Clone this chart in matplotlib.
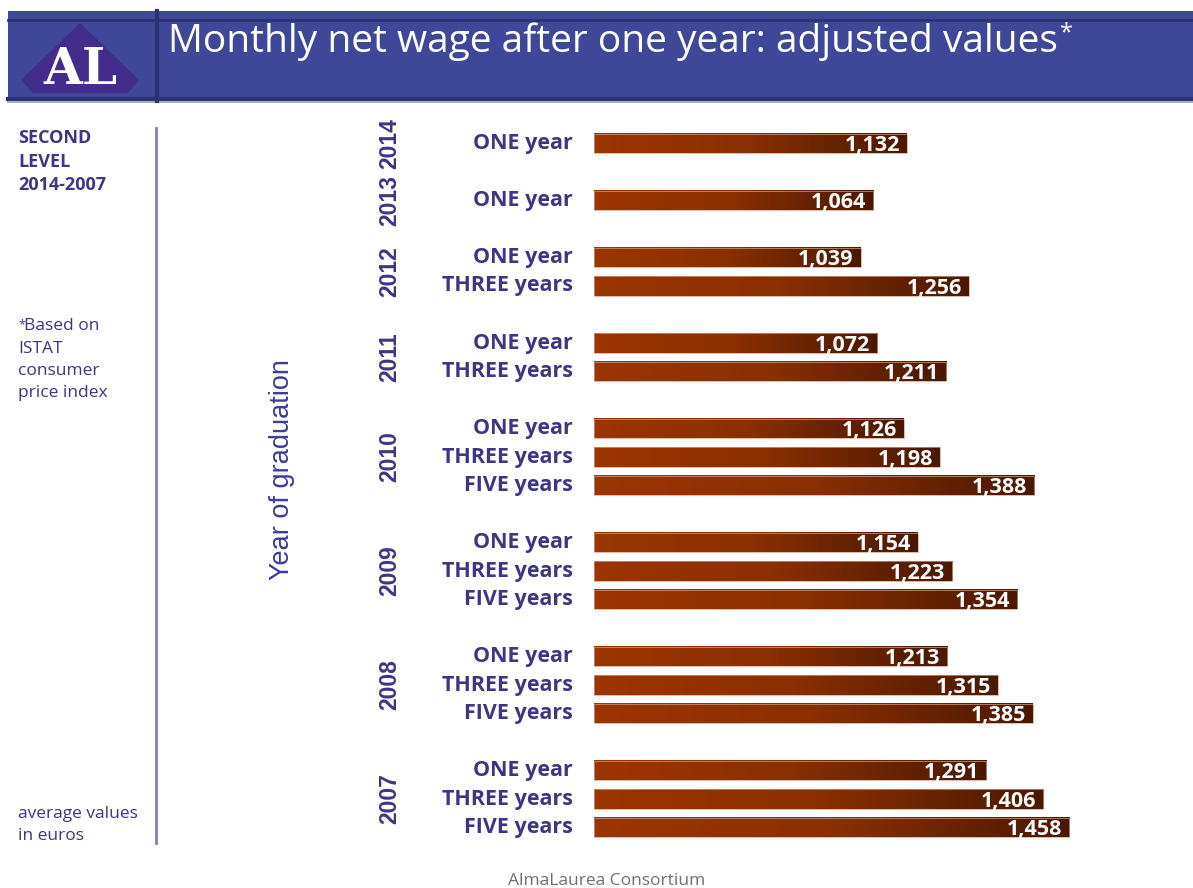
import matplotlib
matplotlib.use("Agg")
import matplotlib.pyplot as plt
import numpy as np
from matplotlib.colors import LinearSegmentedColormap
from matplotlib.patches import Polygon, Rectangle
import matplotlib.transforms as mtransforms

# Dati: salario netto mensile (euro), valori rivalutati
years = ['2014', '2013', '2012', '2011', '2010', '2009', '2008', '2007']
one_year = [1132, 1064, 1039, 1072, 1126, 1154, 1213, 1291]
three_years = [None, None, 1256, 1211, 1198, 1223, 1315, 1406]
five_years = [None, None, None, None, 1388, 1354, 1385, 1458]
series_names = ['ONE year', 'THREE years', 'FIVE years']

PURPLE = '#3d3586'
FONT = 'Open Sans'
W, H = 1193, 888

# righe: un gruppo per anno, riga vuota tra i gruppi
rows_y, rows_val, rows_lab, group_pos = [], [], [], []
r = 0
for i, y in enumerate(years):
    start = r
    for name, serie in zip(series_names, [one_year, three_years, five_years]):
        if serie[i] is not None:
            rows_y.append(r)
            rows_val.append(serie[i])
            rows_lab.append(name)
            r += 1
    group_pos.append((start + r - 1) / 2)
    r += 1

fig = plt.figure(figsize=(W / 100, H / 100), dpi=100)

# livello decorativo in pixel
deco = fig.add_axes([0, 0, 1, 1])
deco.set_xlim(0, W)
deco.set_ylim(H, 0)
deco.axis('off')

# banda del titolo
deco.add_patch(Rectangle((8, 11), W - 8, 90, facecolor='#3f4799', edgecolor='none'))
deco.plot([8, W], [20.5, 20.5], color='#2b326f', lw=2)
deco.plot([8, W], [99.5, 99.5], color='#2b326f', lw=3)
deco.plot([8, W], [102, 102], color='#a9acc8', lw=1.5)
deco.plot([156.5, 156.5], [11, 101], color='#2b326f', lw=3)
deco.add_patch(Polygon([(80, 23), (21, 80), (33, 93), (128, 93), (139, 80)],
                       closed=True, facecolor='#432c8c', edgecolor='none'))
deco.text(80, 70, 'AL', color='white', fontsize=36, fontweight='bold',
          family='DejaVu Serif', ha='center', va='center')
deco.text(168, 42, 'Monthly net wage after one year: adjusted values',
          color='white', fontsize=28, family=FONT, ha='left', va='center')
deco.text(1060, 33, '*', color='white', fontsize=17, family=FONT, ha='left', va='center')

# pannello sinistro
deco.plot([155.5, 155.5], [128, 843], color='#7b7fd0', lw=2)
deco.text(18, 129, 'SECOND\nLEVEL\n2014-2007', color=PURPLE, fontsize=13,
          fontweight='bold', family=FONT, ha='left', va='top', linespacing=1.4)
deco.text(18, 318, '*', color=PURPLE, fontsize=9, family=FONT, ha='left', va='top')
deco.text(24, 318, 'Based on', color=PURPLE, fontsize=12.5, family=FONT,
          ha='left', va='top')
deco.text(18, 341, 'ISTAT\nconsumer\nprice index', color=PURPLE,
          fontsize=12.5, family=FONT, ha='left', va='top', linespacing=1.5)
deco.text(18, 806, 'average values\nin euros', color=PURPLE, fontsize=12.5,
          family=FONT, ha='left', va='top', linespacing=1.5)
deco.text(282, 470, 'Year of graduation', color='#3d3a9a', fontsize=19.5,
          family='Liberation Sans', rotation=90, ha='center', va='center')
deco.text(607, 873, 'AlmaLaurea Consortium', color='#707070', fontsize=12.5,
          family=FONT, ha='center', va='top')

# grafico a barre
ax_left, ax_right = 594, 1150
ax_top, ax_bot = 120, 850
x_min = 503
px_per_euro = 0.4975
row_px = 28.5
ax = fig.add_axes([ax_left / W, 1 - ax_bot / H, (ax_right - ax_left) / W, (ax_bot - ax_top) / H])
ax.set_xlim(x_min, x_min + (ax_right - ax_left) / px_per_euro)
ax.set_ylim(rows_y[-1] + (ax_bot - 827.5) / row_px, -(143.5 - ax_top) / row_px)
ax.axis('off')
ax.patch.set_alpha(0)

cmap = LinearSegmentedColormap.from_list('wage', ['#9c3500', '#8a2f00', '#4a1803'])
grad = np.linspace(0, 1, 256).reshape(1, -1)
bar_h = 0.70
for y, v in zip(rows_y, rows_val):
    ax.imshow(grad, cmap=cmap, aspect='auto', interpolation='bilinear',
              extent=[x_min, v, y + bar_h / 2, y - bar_h / 2], zorder=2)
    ax.add_patch(Rectangle((x_min, y - bar_h / 2), v - x_min, bar_h, facecolor='none',
                           edgecolor='#d4a088', lw=0.5, zorder=3))
    ax.annotate(f'{v:,}', (v, y), xytext=(-5, -1.5), textcoords='offset points',
                ha='right', va='center', color='white', fontsize=15.5,
                fontweight='bold', family=FONT, zorder=4)

# etichette categorie e anni
trans = mtransforms.blended_transform_factory(fig.transFigure, ax.transData)
for y, lab in zip(rows_y, rows_lab):
    ax.text(573 / W, y, lab, transform=trans, ha='right', va='center',
            color=PURPLE, fontsize=15.5, fontweight='bold', family=FONT)
for yr, gp in zip(years, group_pos):
    ax.text(390 / W, gp, yr, transform=trans, ha='center', va='center', rotation=90,
            color=PURPLE, fontsize=16.5, fontweight='bold', family='Liberation Sans')

fig.savefig('out.png', dpi=100)
